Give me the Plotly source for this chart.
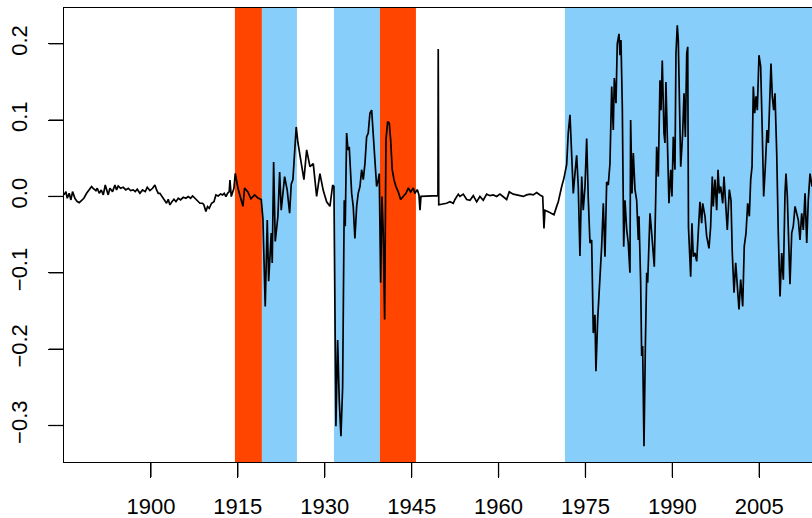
import plotly.graph_objects as go

# ---- data ----
years = [
    1885.00, 1885.33, 1885.56, 1885.90, 1886.19, 1886.48, 1886.88, 1887.28, 1887.63, 1888.03,
    1888.43, 1888.90, 1889.35, 1889.76, 1890.04, 1890.51, 1890.74, 1891.08, 1891.43, 1891.78,
    1892.12, 1892.35, 1892.63, 1892.92, 1893.38, 1893.79, 1894.07, 1894.36, 1894.76, 1895.22,
    1895.68, 1896.09, 1896.49, 1896.95, 1897.30, 1897.64, 1898.10, 1898.56, 1899.02, 1899.37,
    1899.83, 1900.29, 1900.69, 1900.98, 1901.27, 1901.55, 1902.01, 1902.42, 1902.70, 1902.99,
    1903.28, 1903.63, 1903.97, 1904.32, 1904.72, 1905.12, 1905.58, 1906.04, 1906.44, 1906.85,
    1907.19, 1907.60, 1907.88, 1908.17, 1908.46, 1908.92, 1909.15, 1909.49, 1909.78, 1910.07,
    1910.47, 1910.88, 1911.22, 1911.62, 1912.03, 1912.37, 1912.66, 1912.95, 1913.23, 1913.52,
    1913.64, 1913.87, 1914.10, 1914.33, 1914.56,
    1915.02, 1915.88, 1916.17, 1916.74, 1917.26, 1917.90, 1918.47, 1919.04, 1919.33, 1919.73,
    1920.08, 1920.32, 1920.77, 1920.94, 1921.18, 1921.46, 1921.92, 1922.22, 1922.49, 1923.08,
    1923.53, 1923.94, 1924.22, 1924.51, 1924.81, 1925.08, 1925.38, 1925.94, 1926.41, 1926.88,
    1927.45, 1928.02, 1928.60, 1929.17, 1929.74, 1930.33, 1930.90, 1931.37, 1931.59, 1931.93,
    1932.23, 1932.50, 1932.80, 1933.09, 1933.37, 1933.54, 1933.78, 1934.01, 1934.23, 1934.65,
    1934.92, 1935.21, 1935.51, 1935.78, 1936.08, 1936.37, 1936.65, 1936.94, 1937.23, 1937.51,
    1937.80, 1938.10, 1938.37, 1938.67, 1938.96, 1939.24, 1939.41, 1939.65, 1939.88, 1940.10,
    1940.34, 1940.57, 1940.86, 1941.14, 1941.38, 1941.65, 1941.95, 1942.29, 1942.69, 1943.10,
    1943.55, 1944.02, 1944.42, 1944.83, 1945.28, 1945.57, 1945.97, 1946.26, 1946.44, 1946.61,
    1949.54, 1949.59, 1949.68,
    1950.46, 1951.04, 1951.61, 1952.18, 1952.48, 1953.05, 1953.34, 1953.91, 1954.50, 1955.07,
    1955.64, 1956.22, 1956.79, 1957.36, 1957.95, 1958.52, 1959.09, 1959.68, 1960.24, 1960.81,
    1961.40, 1961.85, 1962.54, 1963.13, 1963.70, 1964.27, 1964.85, 1965.42, 1965.99, 1966.58,
    1967.15, 1967.62, 1967.84, 1968.01, 1968.58, 1969.17, 1969.57, 1970.03, 1970.31, 1970.90,
    1971.29, 1971.76,
    1972.03, 1972.33, 1972.62, 1972.90, 1973.19, 1973.48, 1973.76, 1974.05, 1974.35, 1974.62,
    1974.92, 1975.21, 1975.49, 1975.78, 1976.07, 1976.35, 1976.64, 1976.81, 1977.11, 1977.51,
    1977.80, 1978.08, 1978.37, 1978.66, 1978.94, 1979.23, 1979.53, 1979.80, 1979.98, 1980.27,
    1980.49, 1980.79, 1980.96, 1981.13, 1981.36, 1981.60, 1981.82, 1982.12, 1982.39, 1982.68,
    1982.80, 1983.03, 1983.26, 1983.55, 1983.84, 1984.12, 1984.24, 1984.53, 1984.70, 1984.87,
    1985.10, 1985.33, 1985.57, 1985.74, 1985.91, 1986.14, 1986.43, 1986.71, 1986.88, 1987.12,
    1987.29, 1987.57, 1987.86, 1988.04, 1988.26, 1988.55, 1988.72, 1988.89, 1989.12, 1989.41,
    1989.71, 1989.93, 1990.16, 1990.45, 1990.62, 1990.85, 1991.02, 1991.20, 1991.44, 1991.78,
    1991.90, 1992.01, 1992.24, 1992.48, 1992.65, 1992.78, 1993.16, 1993.38, 1993.61, 1993.90,
    1994.20, 1994.48, 1994.76, 1995.06, 1995.23, 1995.63, 1995.92, 1996.32, 1996.61, 1996.89,
    1997.06, 1997.36, 1997.65, 1997.88, 1998.10, 1998.34, 1998.69, 1998.91, 1999.20, 1999.48,
    1999.83, 2000.12, 2000.34, 2000.64, 2000.93, 2001.21, 2001.50, 2001.79, 2002.14, 2002.41,
    2002.71, 2003.00, 2003.28, 2003.52, 2003.75, 2003.97, 2004.21, 2004.44, 2004.66, 2004.95,
    2005.24, 2005.47, 2005.76, 2006.04, 2006.33, 2006.56, 2006.80, 2007.02, 2007.25, 2007.49,
    2007.71, 2008.01, 2008.28, 2008.58, 2008.87, 2009.15, 2009.44, 2009.61, 2009.84, 2010.08,
    2010.30, 2010.60, 2010.87, 2011.17, 2011.46, 2011.74, 2012.03, 2012.32, 2012.60, 2012.90,
    2013.19, 2013.46, 2013.76, 2014.10,
]

values = [
    0.002, 0.0063, -0.0024, 0.0041, -0.0046, 0.0063, -0.0024, -0.0068, -0.0081, -0.0046,
    -0.0024, 0.0041, 0.0094, 0.0129, 0.0107, 0.0076, 0.0107, 0.0041, 0.0085, 0.002,
    0.015, 0.0085, 0.002, 0.0107, 0.0063, 0.015, 0.0085, 0.0137, 0.0107, 0.012,
    0.0085, 0.0107, 0.0076, 0.0085, 0.0063, 0.0094, 0.0041, 0.0085, 0.0063, 0.012,
    0.0076, 0.0107, 0.015, 0.0085, 0.0041, 0.0041, -0.0011, -0.0046, -0.0089, -0.0037,
    -0.0111, -0.0068, -0.0037, -0.0068, -0.0024, -0.0046, -0.0011, -0.0024, -0.0002, -0.0024,
    0.0007, -0.0024, -0.0046, -0.0068, -0.0089, -0.0089, -0.0111, -0.0198, -0.0133, -0.0155,
    -0.0089, -0.0068, 0.002, 0.0007, 0.0033, 0.002, 0.0041, -0.0002, 0.0041, 0.0063,
    0.0216, -0.0002, 0.0041, 0.0107, 0.0303,
    0.011, -0.013, 0.011, 0.006, -0.003, 0.002, -0.002, -0.004, -0.029, -0.144,
    -0.031, -0.111, -0.048, -0.087, 0.045, -0.059, -0.026, 0.032, -0.018, 0.026,
    0.008, -0.022, 0.016, 0.022, 0.061, 0.091, 0.070, 0.043, 0.022, 0.061,
    0.039, 0.043, 0.0, 0.030, 0.008, -0.007, -0.013, 0.015, 0.013, -0.301,
    -0.188, -0.266, -0.314, -0.25, -0.005, -0.039, 0.083, 0.061, 0.065, 0.004,
    -0.013, -0.055, -0.013, 0.004, 0.013, 0.035, 0.022, 0.043, 0.078, 0.083,
    0.109, 0.113, 0.083, 0.052, 0.013, 0.022, 0.030, -0.113, 0.0, -0.048,
    -0.161, 0.074, 0.098, 0.096, 0.074, 0.035, 0.022, 0.013, 0.006, -0.004,
    0.0, 0.004, 0.011, 0.006, 0.011, 0.004, 0.009, 0.002, -0.018, 0.0,
    0.001, 0.193, -0.011,
    -0.010, -0.009, -0.007, -0.009, -0.004, 0.003, 0.0, 0.003, -0.004, -0.005,
    0.001, -0.007, 0.0, -0.005, 0.003, 0.001, 0.002, 0.0, 0.003, 0.0,
    -0.004, 0.006, 0.003, 0.002, 0.001, 0.0, 0.002, 0.003, 0.002, 0.005,
    0.002, 0.0, -0.042, -0.018, -0.020, -0.022, -0.024, -0.013, -0.007, 0.013,
    0.024, 0.042,
    0.083, 0.107, 0.043, 0.004, 0.030, 0.054, 0.013, -0.078, 0.026, -0.018,
    0.013, 0.076, -0.004, -0.061, -0.057, -0.179, -0.155, -0.229, -0.161, -0.113,
    -0.065, -0.009, -0.079, 0.019, 0.015, 0.043, 0.144, 0.087, 0.155, 0.122,
    0.200, 0.213, 0.185, 0.205, 0.118, -0.066, -0.005, -0.044, -0.061, -0.1,
    0.1, 0.004, 0.057, 0.009, -0.005, -0.057, -0.026, -0.113, -0.209, -0.196,
    -0.327, -0.2, -0.1, -0.113, -0.057, -0.022, -0.048, -0.070, -0.092, -0.005,
    0.065, 0.026, 0.152, 0.113, 0.178, 0.083, 0.07, 0.150, 0.083, -0.009,
    0.035, 0.0, 0.078, 0.035, 0.187, 0.224, 0.205, 0.144, 0.039, 0.083,
    0.131, 0.135, 0.078, 0.187, 0.196, -0.040, -0.105, -0.035, -0.079, -0.074,
    -0.085, -0.044, -0.007, -0.035, -0.009, -0.026, -0.052, -0.068, -0.039, 0.026,
    -0.013, 0.022, -0.018, 0.035, 0.004, 0.013, -0.009, 0.026, -0.013, -0.044,
    0.009, -0.005, -0.074, -0.126, -0.087, -0.122, -0.148, -0.109, -0.144, -0.065,
    -0.048, -0.009, -0.026, 0.022, 0.039, 0.144, 0.109, 0.131, 0.113, 0.185,
    0.170, 0.1, 0.0, 0.039, 0.087, 0.070, 0.131, 0.174, 0.131, 0.113,
    0.135, 0.057, -0.048, -0.131, -0.074, -0.109, 0.004, 0.030, 0.0, -0.048,
    -0.115, -0.048, -0.039, -0.013, -0.022, -0.031, -0.057, -0.022, -0.044, 0.004,
    -0.061, -0.005, 0.030, 0.013,
]

# shaded regime periods
regime_start = [1914.50, 1919.16, 1931.59, 1939.53, 1971.46]
regime_end = [1919.16, 1925.20, 1939.53, 1945.74, 2020.0]
regime_color = ["#FF4500", "#87CEFA", "#87CEFA", "#FF4500", "#87CEFA"]

x_ticks = [1900, 1915, 1930, 1945, 1960, 1975, 1990, 2005]
y_ticks = [-0.3, -0.2, -0.1, 0.0, 0.1, 0.2]
y_tick_text = ["\u22120.3", "\u22120.2", "\u22120.1", "0.0", "0.1", "0.2"]

x_range = [1885.0, 2014.1]
y_range = [-0.3478, 0.2468]

# ---- figure ----
W, H = 812, 518
M = dict(l=64, r=0, t=8, b=56)
TICK_PX = 15
plot_w = W - M["l"] - M["r"]
plot_h = H - M["t"] - M["b"]

fig = go.Figure()

for s, e, c in zip(regime_start, regime_end, regime_color):
    fig.add_shape(type="rect", xref="x", yref="paper", x0=s, x1=e, y0=0, y1=1,
                  fillcolor=c, line=dict(width=0), layer="below")

fig.add_trace(go.Scatter(x=years, y=values, mode="lines",
                         line=dict(color="black", width=1.7),
                         hoverinfo="skip", showlegend=False))

# R-style outward tick marks (drawn explicitly at the tick values)
for t in x_ticks:
    fig.add_shape(type="line", xref="x", yref="paper", x0=t, x1=t,
                  y0=0, y1=-TICK_PX / plot_h, line=dict(color="black", width=1.3),
                  layer="above")
for t in y_ticks:
    fig.add_shape(type="line", xref="paper", yref="y", x0=0, x1=-TICK_PX / plot_w,
                  y0=t, y1=t, line=dict(color="black", width=1.3), layer="above")

font = dict(family="Liberation Sans, Arial, sans-serif", size=22, color="black")

fig.update_layout(
    width=W, height=H,
    margin=dict(**M, autoexpand=False),
    paper_bgcolor="white", plot_bgcolor="white",
    showlegend=False,
    font=font,
    xaxis=dict(range=x_range, tickvals=x_ticks, ticktext=[str(t) for t in x_ticks],
               automargin=False,
               showgrid=False, zeroline=False, showline=True, linecolor="black",
               linewidth=1.3, mirror=True, ticks="outside", ticklen=TICK_PX,
               tickwidth=1.3, tickcolor="black", tickfont=font, ticklabelstandoff=9),
    yaxis=dict(range=y_range, tickvals=y_ticks, ticktext=y_tick_text,
               automargin=False,
               showgrid=False, zeroline=False, showline=True, linecolor="black",
               linewidth=1.3, ticks="outside", ticklen=TICK_PX, tickwidth=1.3,
               tickcolor="black", tickangle=-90, tickfont=font, ticklabelstandoff=12),
)

fig.write_html("out.html", config={"displayModeBar": False},
               post_script="document.body.style.margin='0';document.body.style.padding='0';")
